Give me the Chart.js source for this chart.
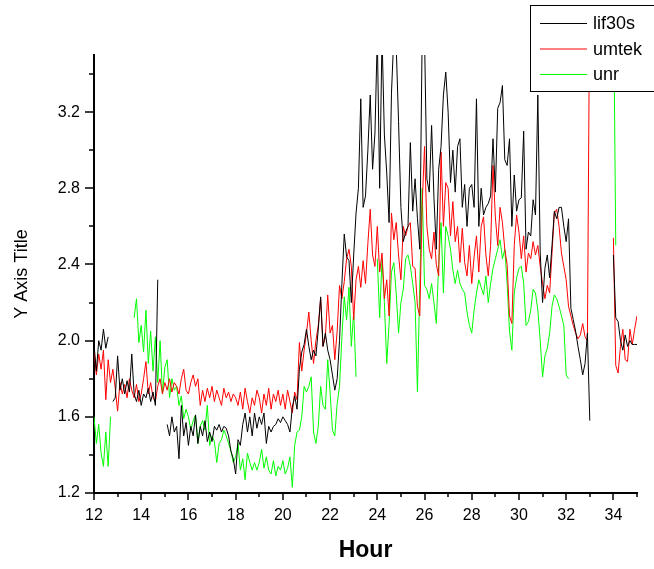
<!DOCTYPE html>
<html>
<head>
<meta charset="utf-8">
<script src="https://cdn.jsdelivr.net/npm/chart.js@4.4.1/dist/chart.umd.min.js"></script>
<style>
  html, body { margin: 0; padding: 0; background: #fff; }
  canvas { display: block; }
</style>
</head>
<body>
<canvas id="chart" width="654" height="569"></canvas>
<script>
// samples every 0.1 h from 12.0 to 35.0, one row per hour
const hours = [];
for (let i = 0; i <= 230; i++) hours.push(+(12 + i / 10).toFixed(1));

const seriesNames = ['lif30s', 'umtek', 'unr'];

const lif30s = [
  1.98, 1.84, 2.0, 1.95, 2.06, 1.96, 2.02, null, 1.68, 1.7,     // 12
  1.92, 1.74, 1.8, 1.72, 1.79, 1.73, 1.93, 1.72, 1.68, 1.74,    // 13
  1.66, 1.72, 1.7, 1.75, 1.68, 1.73, 1.66, 2.32, null, null,    // 14
  null, 1.56, 1.5, 1.6, 1.52, 1.55, 1.38, 1.66, 1.5, 1.57,      // 15
  1.45, 1.55, 1.5, 1.61, 1.46, 1.55, 1.5, 1.58, 1.47, 1.52,     // 16
  1.47, 1.55, 1.53, 1.56, 1.52, 1.55, 1.54, 1.5, 1.42, 1.38,    // 17
  1.3, 1.48, 1.45, 1.56, 1.62, 1.52, 1.6, 1.5, 1.62, 1.54,      // 18
  1.6, 1.56, 1.62, 1.46, 1.55, 1.52, 1.55, 1.56, 1.59, 1.57,    // 19
  1.6, 1.58, 1.56, 1.52, 1.65, 1.71, 1.64, 1.85, 1.94, 1.98,    // 20
  2.06, 1.97, 1.9, 1.95, 1.92, 2.06, 2.23, 1.97, 2.04, 1.95,    // 21
  1.9, 1.82, 1.74, 1.8, 2.0, 2.3, 2.56, 2.44, 2.42, 2.2,        // 22
  2.45, 2.67, 2.8, 3.27, 2.7, 2.76, 3.0, 3.29, 2.9, 3.09,       // 23
  3.6, 2.8, 3.6, 3.08, 2.88, 2.62, 3.3, 3.6, 3.55, 3.15,        // 24
  2.7, 2.52, 2.57, 2.6, 3.04, 2.68, 2.85, 2.64, 2.48, 3.6,      // 25
  3.6, 2.85, 2.78, 3.13, 2.75, 2.48, 2.9, 3.02, 3.29, 3.41,     // 26
  3.2, 2.83, 3.0, 2.78, 3.02, 3.06, 2.7, 2.82, 2.6, 2.8,        // 27
  2.82, 2.7, 3.27, 2.6, 2.8, 2.66, 2.7, 2.72, 2.76, 3.06,       // 28
  2.78, 3.22, 3.25, 3.34, 2.95, 2.92, 3.06, 2.6, 2.87, 2.68,    // 29
  2.74, 2.75, 3.1, 2.48, 2.57, 2.55, 2.74, 2.66, 3.29, 2.46,    // 30
  2.2, 2.38, 2.45, 2.33, 2.5, 2.68, 2.64, 2.7, 2.7, 2.6,        // 31
  2.52, 2.64, 2.17, 2.11, 2.05, 1.97, 1.9, 1.82, 1.88, 2.04,    // 32
  1.58, null, null, null, null, null, null, null, null, null,   // 33
  2.45, 2.12, 2.1, 2.0, 1.95, 2.03, 1.97, 2.0, 1.98, 1.98,      // 34
  1.98                                                          // 35
];

const umtek = [
  1.95, 1.82, 1.93, 1.85, 1.95, 1.69, 1.9, 1.78, 1.85, 1.75,    // 12
  1.63, 1.78, 1.72, 1.77, 1.7, 1.8, 1.74, 1.7, 1.77, 1.68,      // 13
  1.72, 1.8, 1.89, 1.72, 1.78, 1.7, 1.68, 1.76, 1.8, 1.72,      // 14
  1.78, 1.74, 1.8, 1.73, 1.78, 1.76, 1.72, 1.8, 1.85, 1.74,     // 15
  1.72, 1.78, 1.82, 1.76, 1.8, 1.66, 1.74, 1.68, 1.75, 1.7,     // 16
  1.76, 1.68, 1.74, 1.7, 1.66, 1.75, 1.7, 1.73, 1.68, 1.72,     // 17
  1.7, 1.66, 1.73, 1.64, 1.75, 1.68, 1.62, 1.7, 1.66, 1.74,     // 18
  1.7, 1.62, 1.72, 1.66, 1.75, 1.64, 1.72, 1.68, 1.74, 1.66,    // 19
  1.72, 1.64, 1.74, 1.68, 1.62, 1.73, 1.69, 1.99, 1.84, 1.95,   // 20
  2.04, 2.15, 2.0, 1.88, 2.0, 2.08, 2.22, 1.97, 2.02, 2.24,     // 21
  2.04, 2.08, 1.9, 2.05, 2.29, 2.22, 2.31, 2.43, 2.48, 2.39,    // 22
  2.11, 2.32, 2.39, 2.28, 2.42, 2.3, 2.51, 2.69, 2.45, 2.39,    // 23
  2.6, 2.36, 2.46, 2.22, 2.32, 2.13, 2.67, 2.53, 2.62, 2.45,    // 24
  2.32, 2.6, 2.55, 2.6, 2.62, 2.39, 2.38, 2.18, 2.13, 2.71,     // 25
  3.02, 2.6, 2.48, 2.43, 2.57, 2.4, 2.34, 2.99, 2.6, 2.83,      // 26
  2.8, 2.55, 2.73, 2.52, 2.6, 2.41, 2.59, 2.41, 2.34, 2.5,      // 27
  2.3, 2.44, 2.55, 2.36, 2.6, 2.65, 2.45, 2.34, 2.5, 2.92,      // 28
  2.65, 2.5, 2.7, 2.62, 2.48, 2.4, 2.13, 2.09, 2.5, 2.66,       // 29
  2.57, 2.43, 2.55, 2.36, 2.46, 2.43, 2.52, 2.45, 2.5, 2.39,    // 30
  2.3, 2.22, 2.29, 2.25, 2.46, 2.67, 2.69, 2.6, 2.46, 2.39,     // 31
  2.32, 2.18, 2.13, 2.08, 2.04, 2.01, 2.03, 2.09, 2.02, 2.0,    // 32
  3.9, null, null, null, null, null, null, null, null, null,    // 33
  2.54, 1.87, 1.83, 1.97, 2.06, 1.9, 1.89, 2.06, 1.98, 2.06,    // 34
  2.13                                                          // 35
];

const unr = [
  1.6, 1.46, 1.56, 1.41, 1.34, 1.52, 1.34, 1.6, null, null,     // 12
  null, null, null, null, null, null, null, 2.12, 2.22, 1.99,   // 13
  2.08, 1.94, 2.16, 1.88, 2.05, 1.84, 2.02, 1.78, 2.0, 1.72,    // 14
  1.86, 1.9, 1.7, 1.8, 1.74, 1.76, 1.66, 1.71, 1.59, 1.64,      // 15
  1.6, 1.53, 1.58, 1.61, 1.46, 1.55, 1.58, 1.53, 1.66, 1.45,    // 16
  1.5, 1.47, 1.36, 1.46, 1.48, 1.53, 1.5, 1.46, 1.42, 1.36,     // 17
  1.39, 1.46, 1.32, 1.38, 1.27, 1.41, 1.36, 1.32, 1.36, 1.32,   // 18
  1.36, 1.43, 1.33, 1.39, 1.32, 1.3, 1.37, 1.29, 1.34, 1.32,    // 19
  1.37, 1.3, 1.33, 1.39, 1.23, 1.45, 1.52, 1.53, 1.6, 1.76,     // 20
  1.73, 1.76, 1.81, 1.52, 1.46, 1.55, 1.76, 1.66, 1.64, 1.9,    // 21
  1.73, 1.53, 1.5, 1.67, 1.76, 2.02, 2.23, 2.11, 2.28, 1.97,    // 22
  2.15, 1.81, null, null, null, null, null, null, null, null,   // 23
  2.43, 2.12, 2.43, 2.2, 1.88, 2.09, 2.36, 2.41, 2.25, 2.04,    // 24
  2.2, 2.27, 2.43, 2.45, 2.39, 2.3, 2.2, 1.73, 2.3, 2.8,        // 25
  2.29, 2.27, 2.22, 2.3, 2.2, 2.09, 2.4, 2.62, 2.25, 2.6,       // 26
  2.55, 2.48, 2.37, 2.3, 2.37, 2.3, 2.27, 2.25, 2.15, 2.08,     // 27
  2.04, 2.16, 2.25, 2.32, 2.28, 2.24, 2.34, 2.2, 2.3, 2.38,     // 28
  2.43, 2.48, 2.53, 2.43, 2.48, 2.3, 2.05, 1.95, 2.25, 2.33,    // 29
  2.38, 2.39, 2.3, 2.08, 2.1, 2.16, 2.27, 2.25, 2.16, 2.0,      // 30
  1.81, 1.92, 1.96, 2.04, 2.18, 2.24, 2.22, 2.18, 2.13, 2.08,   // 31
  1.82, 1.8, null, null, null, null, null, null, null, null,    // 32
  null, null, null, null, null, null, null, null, null, null,   // 33
  3.9, 2.5, null, null, null, null, null, null, null, null,     // 34
  null                                                          // 35
];

const seriesColors = ['#000000', '#ff0000', '#00ff00'];

Chart.defaults.font.family = "'Liberation Sans', Arial, sans-serif";
Chart.defaults.color = '#000';

// short/long tick marks like the original plot
const axisTicks = {
  id: 'axisTicks',
  afterDraw(chart) {
    const { ctx, scales: { x, y } } = chart;
    ctx.save();
    ctx.strokeStyle = '#000';
    ctx.lineWidth = 1.5;
    ctx.beginPath();
    for (let h = 12; h <= 35; h++) {
      const px = Math.round(x.getPixelForValue(h));
      const len = h % 2 === 0 ? 7 : 4;
      ctx.moveTo(px, y.bottom);
      ctx.lineTo(px, y.bottom + len);
    }
    for (let k = 0; k <= 11; k++) {
      const py = Math.round(y.getPixelForValue(1.2 + 0.2 * k));
      const len = k % 2 === 0 ? 9 : 5;
      ctx.moveTo(x.left, py);
      ctx.lineTo(x.left - len, py);
    }
    ctx.stroke();
    ctx.restore();
  }
};

// boxed legend in the top right corner
const legendBox = {
  id: 'legendBox',
  afterDraw(chart) {
    const ctx = chart.ctx;
    ctx.save();
    ctx.fillStyle = '#fff';
    ctx.strokeStyle = '#000';
    ctx.lineWidth = 1;
    ctx.fillRect(530.5, 5.5, 130, 86);
    ctx.strokeRect(530.5, 5.5, 130, 86);
    ctx.font = "18px 'Liberation Sans', Arial, sans-serif";
    ctx.textBaseline = 'middle';
    chart.data.datasets.forEach((ds, i) => {
      const ly = 23.5 + i * 25.5;
      ctx.strokeStyle = ds.borderColor;
      ctx.beginPath();
      ctx.moveTo(540, ly);
      ctx.lineTo(587, ly);
      ctx.stroke();
      ctx.fillStyle = '#000';
      ctx.fillText(ds.label, 593, ly + 1);
    });
    ctx.restore();
  }
};

const allSeries = [lif30s, umtek, unr];

const data = {
  datasets: allSeries.map((values, i) => ({
    label: seriesNames[i],
    data: hours.map((h, j) => ({ x: h, y: values[j] })),
    borderColor: seriesColors[i],
    backgroundColor: seriesColors[i],
    borderWidth: 1,
    pointRadius: 0,
    tension: 0,
    spanGaps: false,
  }))
};

new Chart(document.getElementById('chart'), {
  type: 'line',
  data: data,
  options: {
    responsive: false,
    animation: false,
    devicePixelRatio: 1,
    layout: { padding: { top: 55, right: 17, bottom: 0, left: 0 } },
    plugins: {
      legend: { display: false },
      tooltip: { enabled: false },
    },
    scales: {
      x: {
        type: 'linear',
        min: 12,
        max: 35,
        afterFit: (scale) => { scale.height = 76; },
        grid: { display: false, drawTicks: false },
        border: { display: true, color: '#000', width: 2 },
        ticks: {
          stepSize: 2,
          includeBounds: false,
          maxRotation: 0,
          autoSkip: false,
          padding: 13,
          color: '#000',
          font: { size: 16 },
          callback: (value) => value,
        },
        title: {
          display: true,
          text: 'Hour',
          color: '#000',
          font: { size: 23, weight: 'bold' },
          padding: { top: 0, bottom: 5 },
        },
      },
      y: {
        type: 'linear',
        min: 1.2,
        max: 3.5,
        afterFit: (scale) => { scale.width = 94; },
        grid: { display: false, drawTicks: false },
        border: { display: true, color: '#000', width: 2 },
        ticks: {
          stepSize: 0.4,
          includeBounds: false,
          padding: 14,
          color: '#000',
          font: { size: 16 },
          callback: (value) => value.toFixed(1),
        },
        title: {
          display: true,
          text: 'Y Axis Title',
          color: '#000',
          font: { size: 18 },
          padding: { top: 11, bottom: 0 },
        },
      },
    },
  },
  plugins: [axisTicks, legendBox],
});
</script>
</body>
</html>
